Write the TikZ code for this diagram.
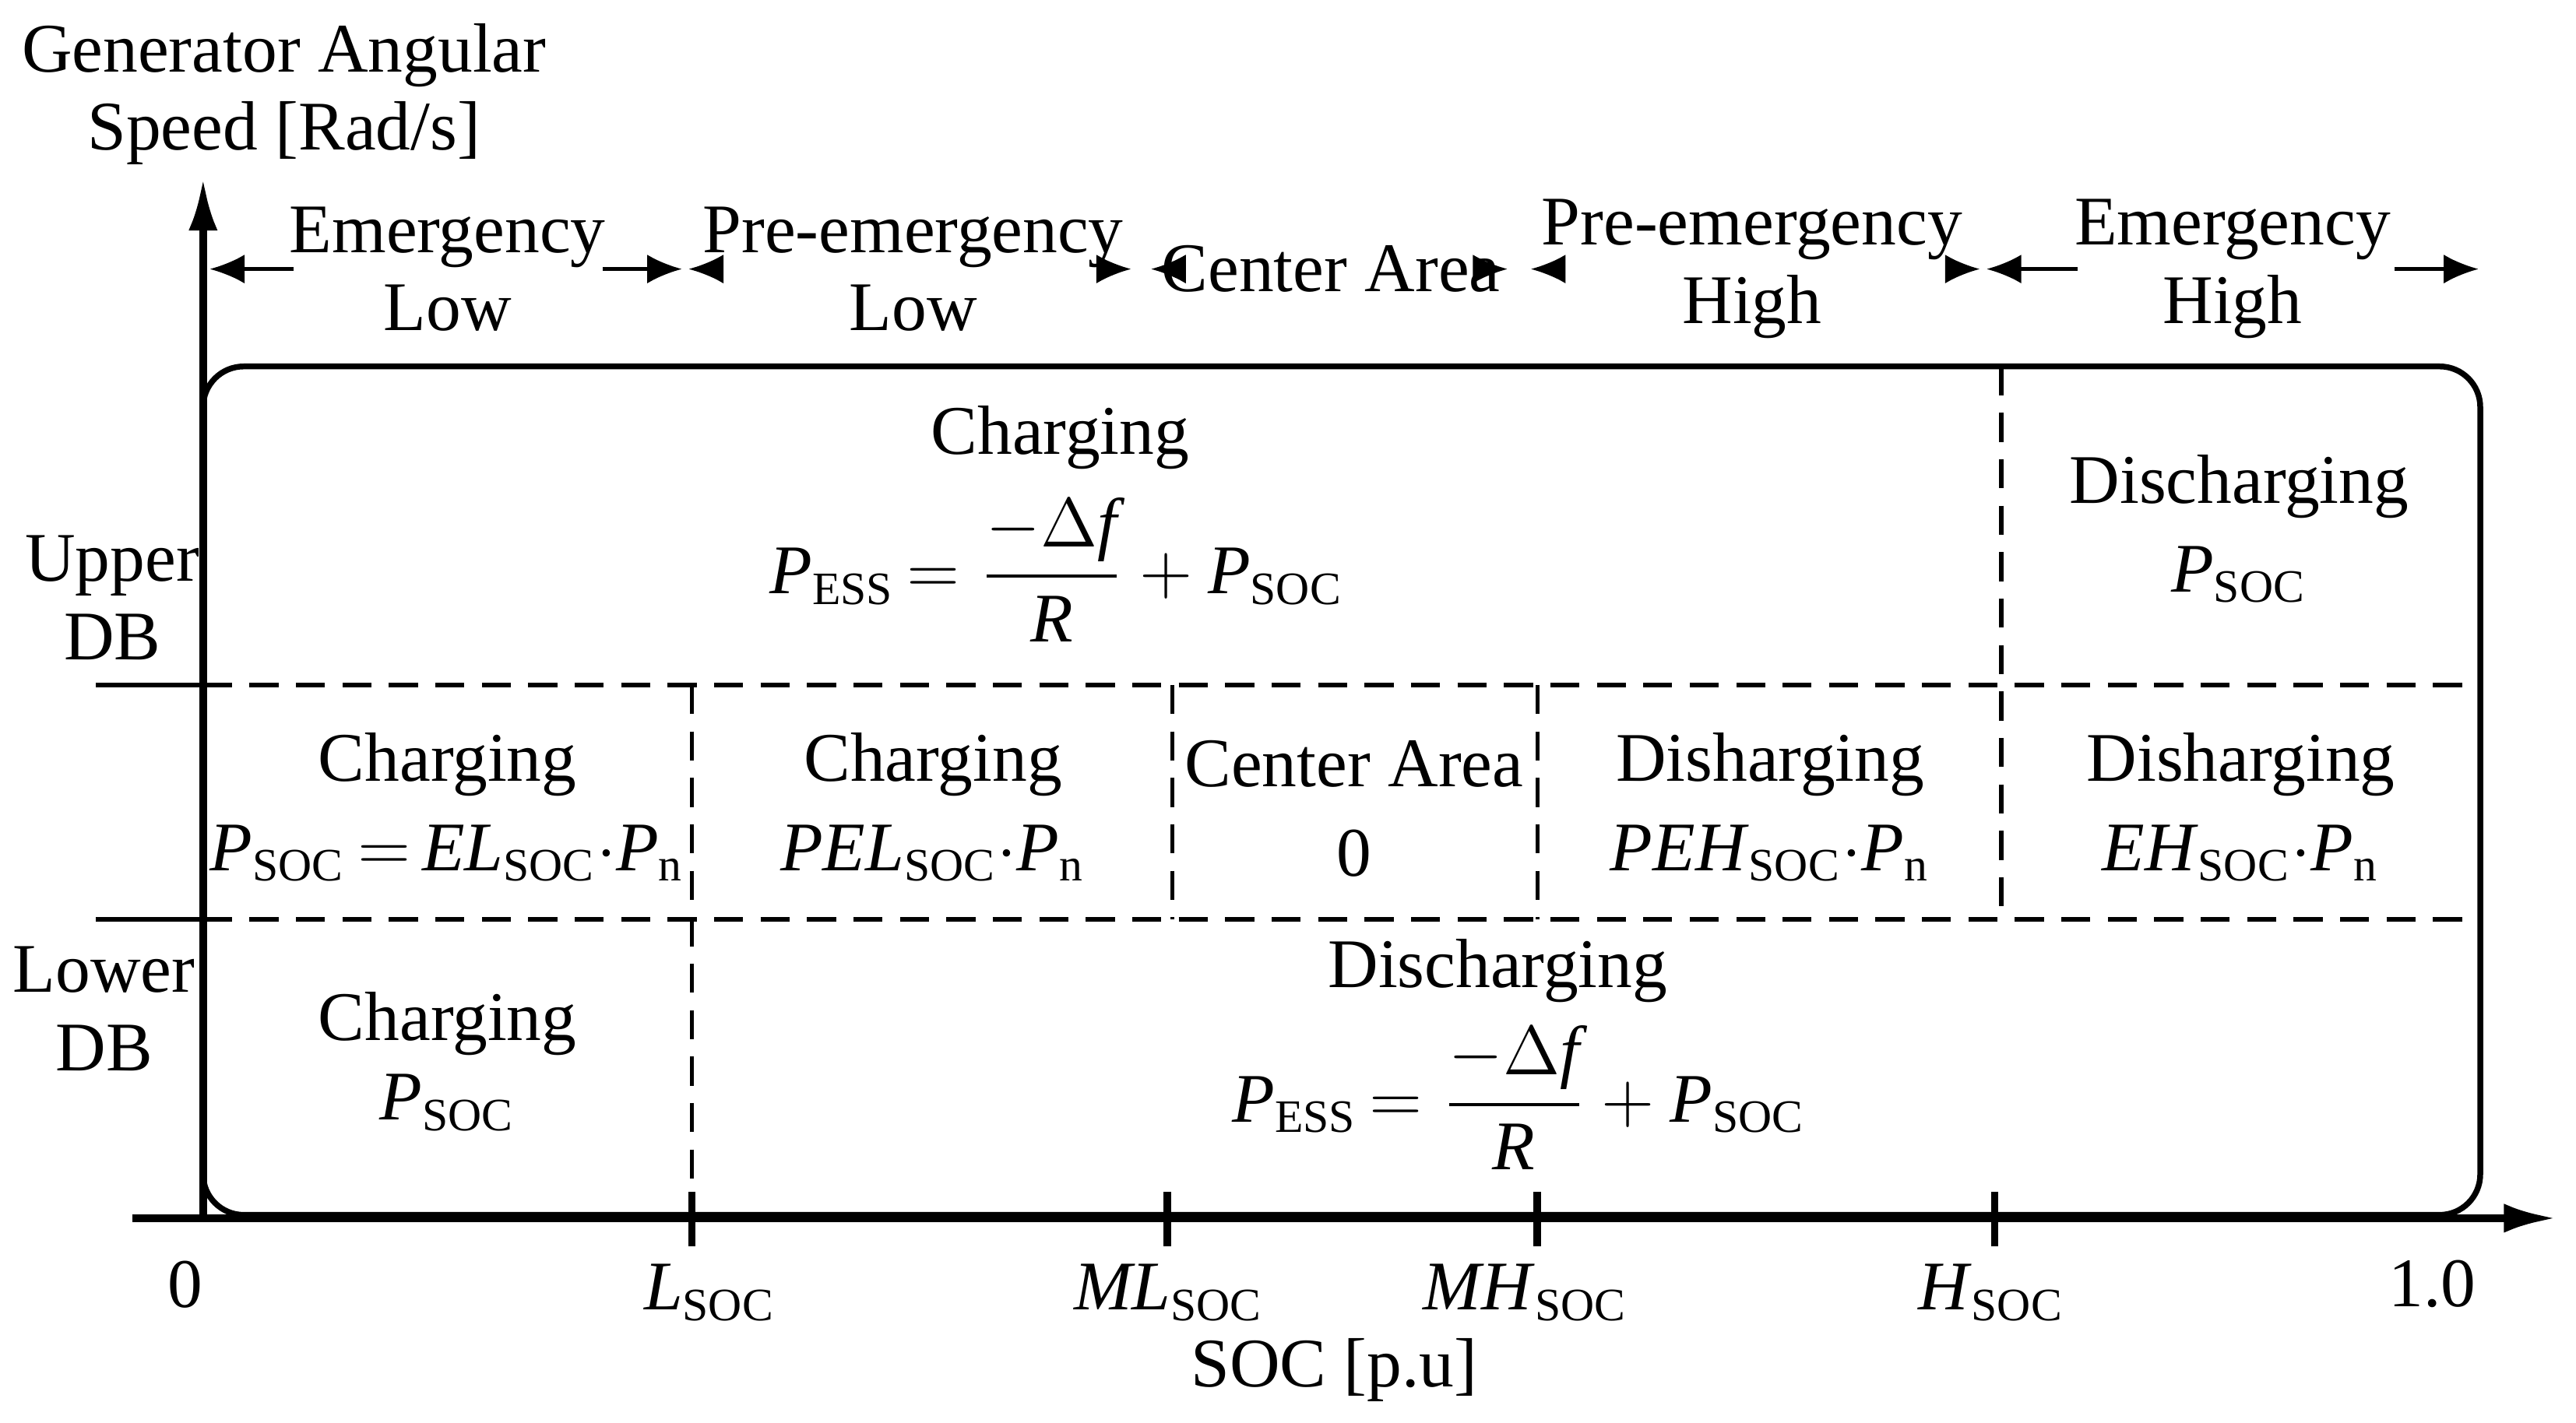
\documentclass[tikz,border=0pt]{standalone}
\usepackage{fontspec}
\setmainfont{Liberation Serif}
\usetikzlibrary{arrows.meta}
\usepackage{amsmath}
\newcommand\PS{\textit{P}\textsubscript{SOC}}
\newcommand\PE{\textit{P}\textsubscript{ESS}}
\newcommand\Pn{\textit{P}\textsubscript{n}}
\newcommand\frm{\PE{}\,$=\dfrac{-\Delta\textit{f}}{\textit{R}}+{}$\PS}
\begin{document}
\begin{tikzpicture}[x=0.01cm,y=-0.01cm,font=\fontsize{12}{13.5}\selectfont,
  ax/.style={line width=1.3pt,-{Latex[length=9pt,width=5pt]}},
  dl/.style={dashed,line width=0.7pt,dash pattern=on 5pt off 3pt},
  ha/.style={line width=0.6pt,-{Latex[length=6pt,width=5pt]}},
  tx/.style={align=center,inner sep=0pt}]
\useasboundingbox (0,0) rectangle (1560,862);
% box
\draw[line width=1pt,rounded corners=7pt] (123,222) rectangle (1502,736);
% axes
\coordinate (o) at (123,738);
\coordinate (ytop) at (123,108);
\coordinate (xl) at (80,738);
\coordinate (xr) at (1548,738);
\draw[ax] (o) -- (ytop);
\draw[ax] (xl) -- (xr);
% DB lines
\draw[line width=0.8pt] (58,415) -- (123,415);
\draw[line width=0.8pt] (58,557) -- (123,557);
\draw[dl] (123,415) -- (1502,415);
\draw[dl] (123,557) -- (1502,557);
\draw[dl] (419,415) -- (419,736);
\draw[dl] (710,415) -- (710,557);
\draw[dl] (931,415) -- (931,557);
\draw[dl] (1212,222) -- (1212,557);
% ticks
\foreach \x in {419,707,931,1208} \draw[line width=1.3pt] (\x,722) -- (\x,755);
% tick labels
\node[tx] (t0) at (112,778) {0};
\node[tx] (t1) at (430,783) {\textit{L}\textsubscript{SOC}};
\node[tx] (t2) at (708,783) {\textit{ML}\textsubscript{SOC}};
\node[tx] (t3) at (924,783) {\textit{MH}\textsubscript{SOC}};
\node[tx] (t4) at (1206,783) {\textit{H}\textsubscript{SOC}};
\node[tx] (t5) at (1473,778) {1.0};
\node[tx] (xlab) at (808,830) {SOC [p.u]};
\node[tx] (ylab) at (172,57) {Generator Angular\\Speed [Rad/s]};
\node[tx] (udb) at (68,362) {Upper\\DB};
\node[tx] (ldb) at (63,611) {Lower\\DB};
% header
\node[tx] (h1) at (271,163) {Emergency\\Low};
\node[tx] (h2) at (553,163) {Pre-emergency\\Low};
\node[tx] (h3) at (806,163) {Center Area};
\node[tx] (h4) at (1061,163) {Pre-emergency\\High};
\node[tx] (h5) at (1352,163) {Emergency\\High};
\coordinate (a0) at (127,163);
\coordinate (a1) at (417,163);
\coordinate (a1b) at (413,163);
\coordinate (a4) at (1203,163);
\coordinate (a4b) at (1199,163);
\coordinate (a5) at (1501,163);
\draw[ha] (178,163) -- (a0);
\draw[ha] (365,163) -- (a1b);
\draw[ha] (430,163) -- (a1);
\draw[ha] (677,163) -- ++(8,0);
\draw[ha] (705,163) -- ++(-8,0);
\draw[ha] (905,163) -- ++(8,0);
\draw[ha] (935,163) -- ++(-8,0);
\draw[ha] (1185,163) -- (a4b);
\draw[ha] (1258,163) -- (a4);
\draw[ha] (1450,163) -- (a5);
% upper row
\node[tx] (c1) at (642,265) {Charging};
\node[tx] (f1) at (640,345) {\frm};
\node[tx] (c2) at (1356,295) {Discharging};
\node[tx] (p2) at (1356,348) {\PS};
% middle row
\node[tx] (m1) at (271,463) {Charging};
\node[tx] (m1b) at (271,517) {\PS{}\,$=$\,\textit{EL}\textsubscript{SOC}$\cdot$\Pn};
\node[tx] (m2) at (565,463) {Charging};
\node[tx] (m2b) at (565,517) {\textit{PEL}\textsubscript{SOC}$\cdot$\Pn};
\node[tx] (m3) at (820,463) {Center Area};
\node[tx] (m3b) at (820,517) {0};
\node[tx] (m4) at (1072,463) {Disharging};
\node[tx] (m4b) at (1072,517) {\textit{PEH}\textsubscript{SOC}$\cdot$\Pn};
\node[tx] (m5) at (1357,463) {Disharging};
\node[tx] (m5b) at (1357,517) {\textit{EH}\textsubscript{SOC}$\cdot$\Pn};
% lower row
\node[tx] (l1) at (271,620) {Charging};
\node[tx] (l1b) at (271,668) {\PS};
\node[tx] (l2) at (907,588) {Discharging};
\node[tx] (f2) at (920,665) {\frm};
\end{tikzpicture}
\end{document}
